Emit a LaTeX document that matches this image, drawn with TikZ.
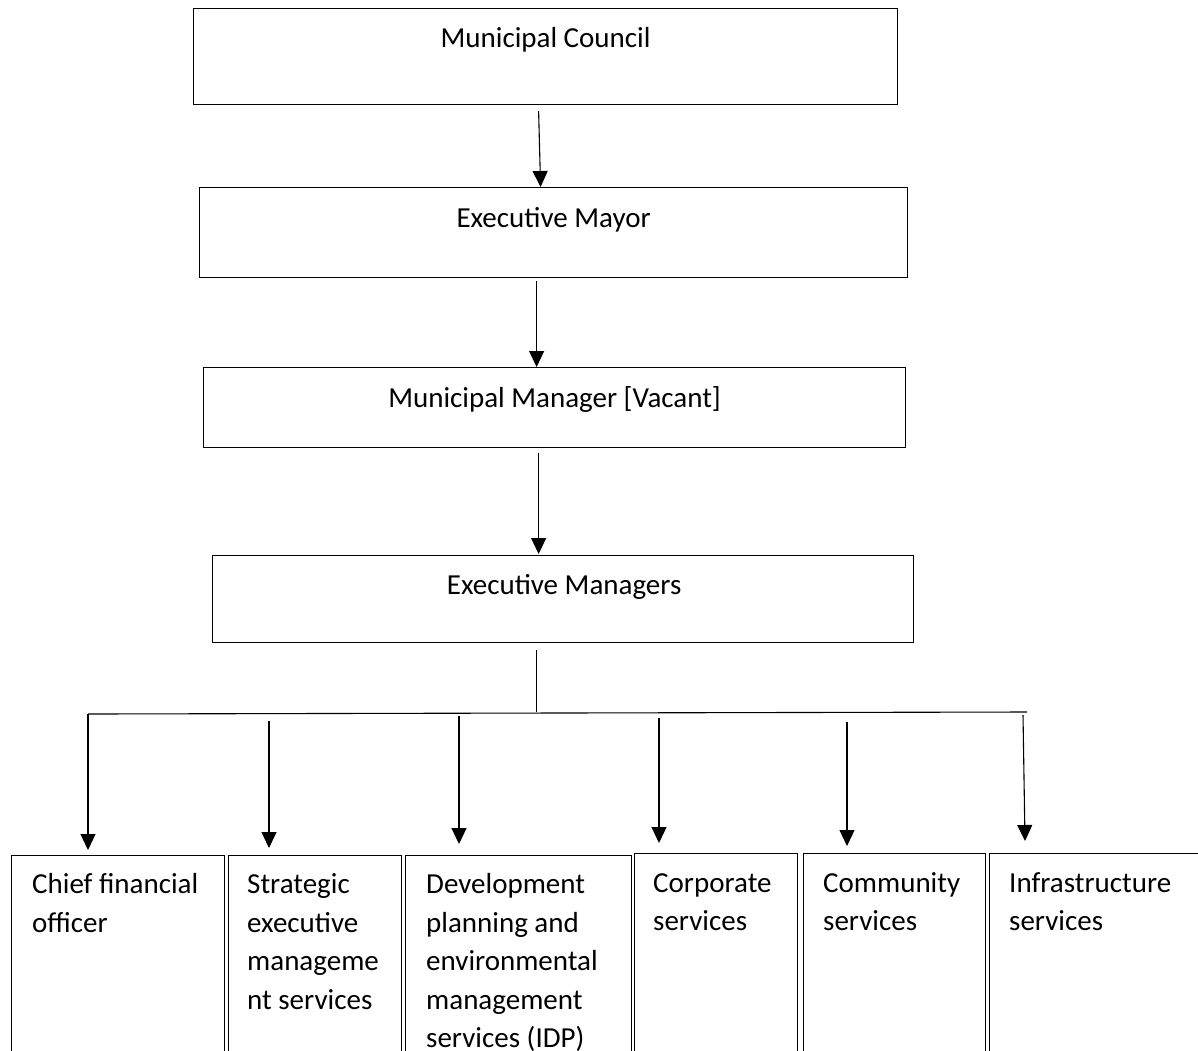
\documentclass[tikz,border=0pt]{standalone}
\usepackage{fontspec}
\setmainfont{Carlito}
\usetikzlibrary{calc,arrows.meta}
\newcommand\stk[1]{\vtop{\baselineskip=38.5pt #1}}
\begin{document}
\begin{tikzpicture}[x=1pt,y=-1pt,
  box/.style={draw,line width=1.2pt,inner sep=0pt,anchor=north west},
  lbl/.style={inner sep=0pt,font=\fontsize{29pt}{38.5pt}\selectfont},
  arr/.style={line width=1.1pt,-{Triangle[length=16pt,width=15pt]}},
  ln/.style={line width=1.1pt}]
\useasboundingbox (0,0) rectangle (1198,1050);
\clip (0,0) rectangle (1198,1050);
\fill[white] (0,0) rectangle (1198,1050);
% top boxes
\node[box,minimum width=704pt,minimum height=96pt] (b1) at (193,8) {};
\node[box,minimum width=708pt,minimum height=90pt] (b2) at (199,187) {};
\node[box,minimum width=702pt,minimum height=80pt] (b3) at (203,367) {};
\node[box,minimum width=701pt,minimum height=87pt] (b4) at (212,555) {};
\node[lbl,anchor=base] (t1) at ($(b1.north)+(0,39)$) {Municipal Council};
\node[lbl,anchor=base] (t2) at ($(b2.north)+(0,40)$) {Executive Mayor};
\node[lbl,anchor=base] (t3) at ($(b3.north)+(0,40)$) {Municipal Manager [Vacant]};
\node[lbl,anchor=base] (t4) at ($(b4.north)+(1,39)$) {Executive Managers};
% bottom boxes
\node[box,minimum width=213pt,minimum height=260pt] (c1) at (11,855) {};
\node[box,minimum width=173pt,minimum height=260pt] (c2) at (228,855) {};
\node[box,minimum width=226pt,minimum height=260pt] (c3) at (405,855) {};
\node[box,minimum width=163pt,minimum height=260pt] (c4) at (634,853) {};
\node[box,minimum width=182pt,minimum height=260pt] (c5) at (803,853) {};
\node[box,minimum width=260pt,minimum height=260pt] (c6) at (989,853) {};
\node[lbl,anchor=base west] (u1) at ($(c1.north west)+(21,38.5)$) {\stk{\hbox{Chief financial}\hbox{officer}}};
\node[lbl,anchor=base west] (u2) at ($(c2.north west)+(19,38.5)$) {\stk{\hbox{Strategic}\hbox{executive}\hbox{manageme}\hbox{nt services}}};
\node[lbl,anchor=base west] (u3) at ($(c3.north west)+(21,38.5)$) {\stk{\hbox{Development}\hbox{planning and}\hbox{environmental}\hbox{management}\hbox{services (IDP)}}};
\node[lbl,anchor=base west] (u4) at ($(c4.north west)+(19,39)$) {\stk{\hbox{Corporate}\hbox{services}}};
\node[lbl,anchor=base west] (u5) at ($(c5.north west)+(20,39)$) {\stk{\hbox{Community}\hbox{services}}};
\node[lbl,anchor=base west] (u6) at ($(c6.north west)+(20,39)$) {\stk{\hbox{Infrastructure}\hbox{services}}};
% connectors
\draw[arr] ($(b1.south)+(-7,6)$) -- ($(b2.north)+(-13,0)$);
\draw[arr] ($(b2.south)+(-17,3)$) -- ($(b3.north)+(-18,0)$);
\draw[arr] ($(b3.south)+(-16,5)$) -- ($(b4.north)+(-24.5,-1)$);
\coordinate (busL) at (88,714);
\coordinate (busR) at (1027,712);
\draw[ln] ($(b4.south)+(-26.5,7)$) -- ($(b4.south)+(-26.5,69)$);
\draw[ln] (busL) -- (busR);
\draw[arr] (busL) -- ($(c1.north west)+(77,-5)$);
\draw[arr] ($(c2.north west)+(41,-134)$) -- ($(c2.north west)+(41,-7)$);
\draw[arr] ($(c3.north west)+(54,-139)$) -- ($(c3.north west)+(54,-11)$);
\draw[arr] ($(c4.north west)+(25,-135)$) -- ($(c4.north west)+(25,-10)$);
\draw[arr] ($(c5.north west)+(44,-131)$) -- ($(c5.north west)+(44,-7)$);
\draw[arr] ($(c6.north west)+(34,-138)$) -- ($(c6.north west)+(36,-12)$);
\end{tikzpicture}
\end{document}
